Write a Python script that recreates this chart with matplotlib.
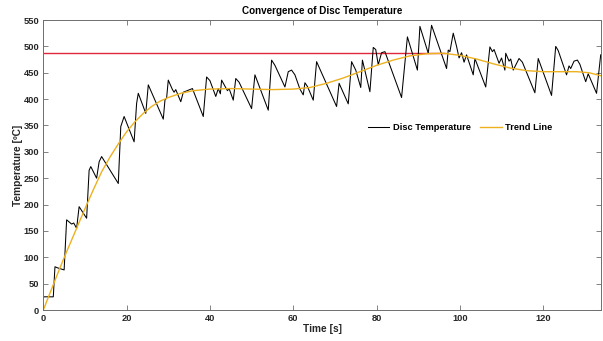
import matplotlib
matplotlib.use("Agg")
import matplotlib.pyplot as plt

plt.rcParams['font.family'] = ['Liberation Sans', 'DejaVu Sans']
plt.rcParams['font.weight'] = 'bold'

# Disc temperature readings (time [s], temperature [degC])
time_s = [0, 2.4, 2.8, 3.4, 5.0, 5.6, 6.8, 7.3, 8.0, 8.6, 10.4, 11.0, 11.4, 12.8,
          13.4, 14.0, 18.0, 18.6, 19.4, 21.8, 22.4, 22.8, 24.6, 25.2, 28.8, 29.2,
          29.6, 30.0, 31.0, 31.4, 31.8, 33.0, 33.6, 35.8, 38.4, 39.2, 40.0, 41.4,
          42.0, 42.5, 42.8, 44.2, 44.6, 45.6, 46.2, 47.0, 50.0, 50.8, 54.0, 54.8,
          55.6, 58.0, 58.8, 59.6, 60.4, 61.6, 62.4, 62.8, 63.4, 64.8, 65.6, 70.4,
          71.0, 73.2, 74.0, 75.0, 76.2, 76.6, 78.4, 79.2, 79.8, 80.4, 81.2, 82.0,
          86.0, 87.4, 89.8, 90.4, 92.4, 93.2, 96.8, 97.2, 97.6, 98.4, 99.2, 99.8,
          100.4, 101.0, 101.6, 103.2, 103.6, 106.2, 107.2, 107.8, 108.2, 109.4,
          110.0, 110.8, 111.0, 111.8, 112.2, 112.8, 114.2, 115.0, 118.0, 118.8,
          122.0, 123.0, 123.6, 125.6, 126.2, 126.6, 127.4, 128.2, 128.8, 130.2,
          130.8, 132.8, 133.8]
disc_temp = [25, 25, 82, 80, 76, 171, 163, 165, 155, 196, 174, 265, 272, 250,
             281, 291, 240, 348, 367, 319, 392, 411, 373, 427, 362, 398,
             402, 436, 418, 413, 418, 395, 413, 420, 367, 442, 435, 405,
             420, 410, 436, 416, 420, 398, 439, 432, 382, 446, 379, 474,
             464, 423, 452, 455, 446, 419, 408, 431, 424, 398, 471, 386,
             430, 391, 471, 455, 422, 474, 414, 498, 494, 465, 488, 490,
             403, 518, 455, 538, 487, 540, 458, 493, 490, 525, 500, 478,
             488, 470, 484, 446, 477, 423, 499, 490, 494, 468,
             478, 455, 487, 472, 476, 455, 477, 470, 412, 477,
             407, 500, 492, 446, 463, 458, 472, 474, 466, 433,
             448, 411, 484]

# Trend line
trend_t = [0, 2, 4, 6, 8, 10, 12, 14, 16, 18, 20, 22, 24, 26, 28, 30, 33, 36, 40,
           45, 50, 55, 60, 64, 68, 72, 76, 80, 84, 88, 92, 96, 100, 104, 108,
           112, 116, 120, 124, 128, 131, 134]
trend_temp = [0, 40, 80, 118, 155, 192, 228, 262, 290, 315, 338, 357, 373, 386,
              396, 403, 411, 416, 419, 420, 419, 418, 419, 422, 430, 440, 452,
              464, 474, 482, 486, 487, 483, 476, 467, 459, 454, 452, 452, 452,
              450, 444]

# Converged temperature reference
ref_temp = 487
ref_t = [0, 96.5]

fig = plt.figure(figsize=(6.03, 3.41), dpi=100)
ax = fig.add_axes([0.0718, 0.0909, 0.9244, 0.8504])

ax.plot(ref_t, [ref_temp, ref_temp], color='#e0283a', lw=1.0)
ax.plot(time_s, disc_temp, color='black', lw=0.75, label='Disc Temperature')
ax.plot(trend_t, trend_temp, color='#EDB120', lw=1.0, label='Trend Line')

ax.set_xlim(0, 133.8)
ax.set_ylim(0, 550)
ax.set_xticks(range(0, 121, 20))
ax.set_yticks(range(0, 551, 50))
ax.tick_params(direction='in', length=3.5, width=0.6, top=True, right=True,
               labelsize=6.7, colors='#6e6e6e', labelcolor='#262626', pad=3)
for s in ax.spines.values():
    s.set_color('#6e6e6e')
    s.set_linewidth(0.7)

ax.set_title('Convergence of Disc Temperature', fontsize=7.1, fontweight='bold',
             color='black', pad=4)
ax.set_xlabel('Time [s]', fontsize=7.3, fontweight='bold', color='#262626', labelpad=0.5)
ax.set_ylabel('Temperature [ºC]', fontsize=7.3, fontweight='bold', color='#262626', labelpad=0.5)

ax.legend(loc='center', bbox_to_anchor=(0.748, 0.628), ncol=2, frameon=False,
          fontsize=6.7, handlelength=2.3, columnspacing=1.0, handletextpad=0.4)

fig.savefig('out.png', dpi=100)
